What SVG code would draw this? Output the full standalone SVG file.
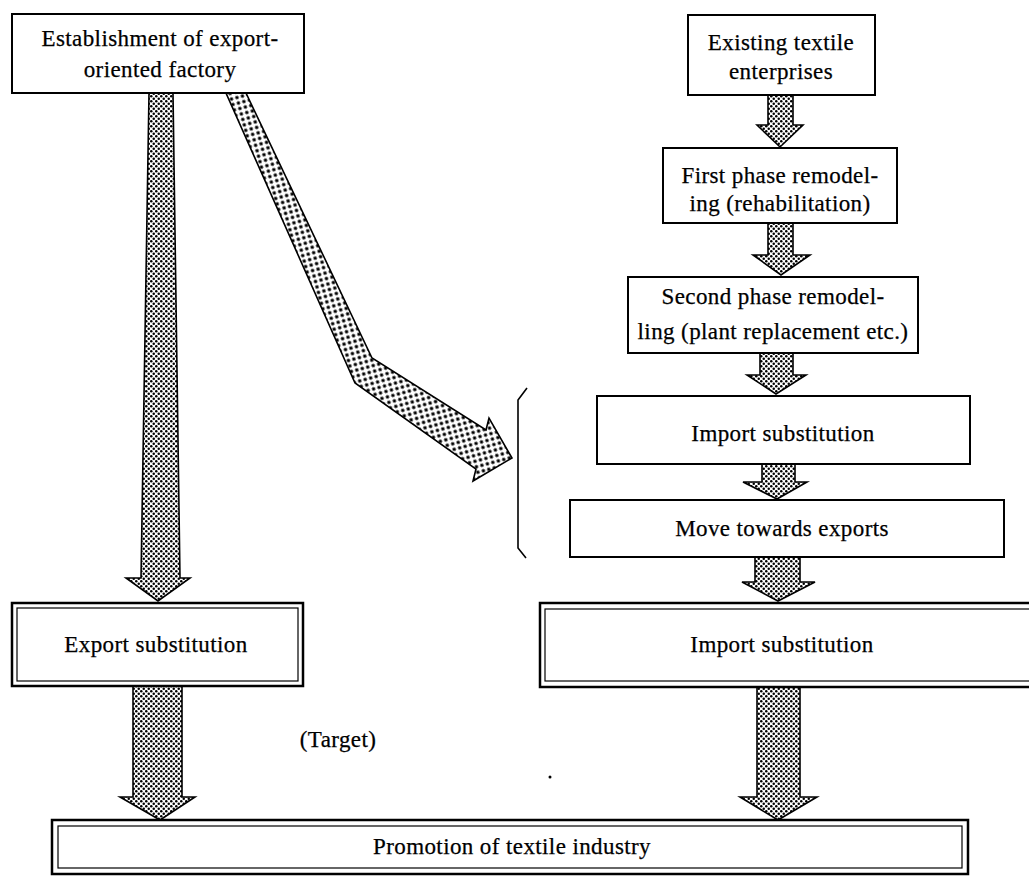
<svg xmlns="http://www.w3.org/2000/svg" width="1029" height="892" viewBox="0 0 1029 892">
<style>
  .box { fill: #fff; stroke: #000; stroke-width: 2; }
  .outer { fill: #fff; stroke: #000; stroke-width: 2.5; }
  .inner { fill: none; stroke: #000; stroke-width: 1.2; }
  .lbl { font-family: "Liberation Serif", "Times New Roman", serif; font-size: 23px; fill: #000; text-anchor: middle; letter-spacing: 0.4px; stroke: #000; stroke-width: 0.25px; }
  .arrow { fill: url(#dots); stroke: #000; stroke-width: 1.6; stroke-linejoin: miter; }
  .arrowc { fill: url(#dotsc); stroke: #000; stroke-width: 1.6; stroke-linejoin: miter; }
</style>
<defs>
  <pattern id="dots" width="5" height="5" patternUnits="userSpaceOnUse">
    <rect width="5" height="5" fill="#fff"/>
    <circle cx="1.25" cy="1.25" r="1.25" fill="#000"/>
    <circle cx="3.75" cy="3.75" r="1.25" fill="#000"/>
  </pattern>
  <pattern id="dotsc" width="8" height="8" patternUnits="userSpaceOnUse" patternTransform="rotate(30)">
    <rect width="8" height="8" fill="#fff"/>
    <circle cx="2" cy="2" r="1.8" fill="#000"/>
    <circle cx="6" cy="6" r="1.8" fill="#000"/>
  </pattern>
</defs>
<rect width="1029" height="892" fill="#fff"/>

<g id="connectors">
  <polygon class="arrow" points="149,93 173,93 180,578 190,578 158,601 126,578 141,578"/>
  <polygon class="arrowc" points="226,93 246,93 372,358 486,430 489,418 512,458 473,481 476,469 355,383"/>
  <polygon class="arrow" points="768,95 793,95 793,125 803,125 780,147 757,125 768,125"/>
  <polygon class="arrow" points="768,223 793,223 793,255 810,255 781,275 753,255 768,255"/>
  <polygon class="arrow" points="760,353 793,353 793,375 806,375 776,394 747,375 760,375"/>
  <polygon class="arrow" points="762,464 795,464 795,482 807,482 777,499 743,482 762,482"/>
  <polygon class="arrow" points="755,557 800,557 800,582 815,582 778,601 742,582 755,582"/>
  <polygon class="arrow" points="133,686 182,686 182,797 195,797 160,820 120,797 133,797"/>
  <polygon class="arrow" points="757,687 800,687 800,797 817,797 778,820 740,797 757,797"/>
  <path d="M527,388 L518,400 L518,548 L526,558" fill="none" stroke="#000" stroke-width="1.6"/>
  <circle cx="550" cy="777" r="1.5" fill="#000"/>
</g>

<g id="n-establishment">
  <rect class="box" x="12" y="14" width="292" height="79" stroke-width="2.5"/>
  <text class="lbl" x="160" y="46">Establishment of export-</text>
  <text class="lbl" x="160" y="77">oriented factory</text>
</g>

<g id="n-existing">
  <rect class="box" x="688" y="15" width="187" height="80"/>
  <text class="lbl" x="781" y="50">Existing textile</text>
  <text class="lbl" x="781" y="79">enterprises</text>
</g>

<g id="n-first">
  <rect class="box" x="663" y="148" width="234" height="75"/>
  <text class="lbl" x="780" y="183">First phase remodel-</text>
  <text class="lbl" x="780" y="211">ing (rehabilitation)</text>
</g>

<g id="n-second">
  <rect class="box" x="628" y="277" width="290" height="76"/>
  <text class="lbl" x="773" y="304">Second phase remodel-</text>
  <text class="lbl" x="773" y="339">ling (plant replacement etc.)</text>
</g>

<g id="n-import1">
  <rect class="box" x="597" y="396" width="373" height="68"/>
  <text class="lbl" x="783" y="441">Import substitution</text>
</g>

<g id="n-move">
  <rect class="box" x="570" y="500" width="434" height="57"/>
  <text class="lbl" x="782" y="536">Move towards exports</text>
</g>

<g id="n-export-sub">
  <rect class="outer" x="12" y="603" width="291" height="83"/>
  <rect class="inner" x="17" y="608" width="281" height="73"/>
  <text class="lbl" x="156" y="652">Export substitution</text>
</g>

<g id="n-import2">
  <rect class="outer" x="540" y="603" width="520" height="84"/>
  <rect class="inner" x="545" y="609" width="510" height="72"/>
  <text class="lbl" x="782" y="652">Import substitution</text>
</g>

<g id="n-target">
  <text class="lbl" x="338" y="747">(Target)</text>
</g>

<g id="n-promotion">
  <rect class="outer" x="52" y="820" width="916" height="54"/>
  <rect class="inner" x="58" y="826" width="904" height="42"/>
  <text class="lbl" x="512" y="854">Promotion of textile industry</text>
</g>
</svg>
